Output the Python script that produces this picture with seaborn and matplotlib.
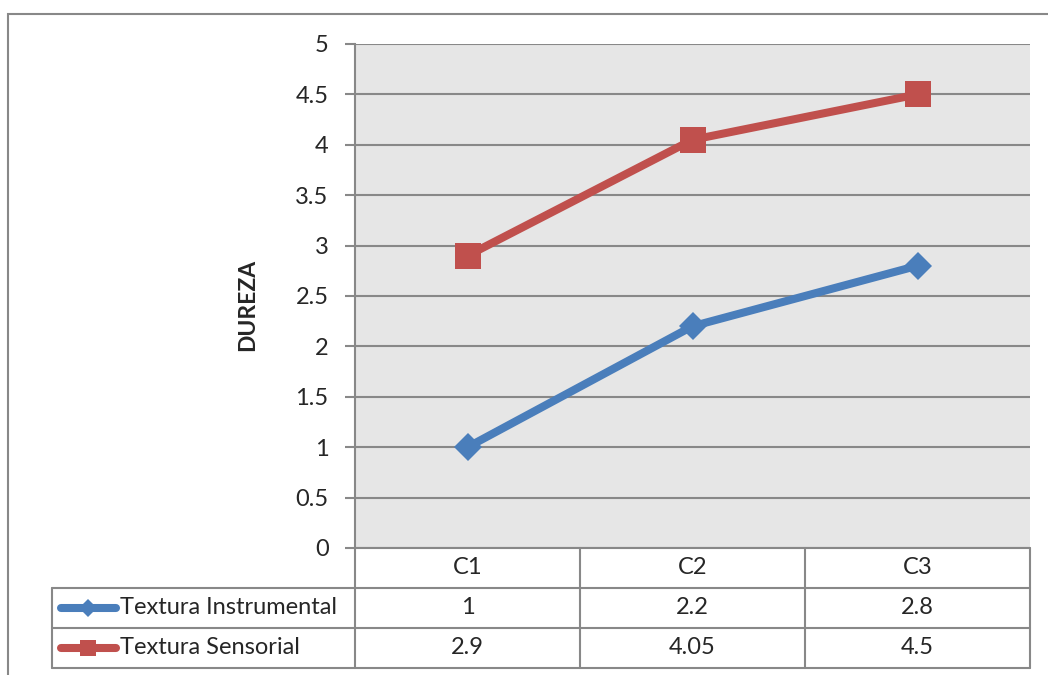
import matplotlib
matplotlib.use("Agg")
import matplotlib.pyplot as plt
from matplotlib.lines import Line2D
from matplotlib.patches import Rectangle
from matplotlib.transforms import blended_transform_factory
import pandas as pd
import seaborn as sns

categories = ["C1", "C2", "C3"]
instrumental = [1, 2.2, 2.8]
sensorial = [2.9, 4.05, 4.5]
series_names = ["Textura Instrumental", "Textura Sensorial"]
y_ticks = [0, 0.5, 1, 1.5, 2, 2.5, 3, 3.5, 4, 4.5, 5]

df = pd.DataFrame({"Categoria": categories * 2,
                   "Serie": [series_names[0]] * 3 + [series_names[1]] * 3,
                   "Dureza": instrumental + sensorial})

sns.set_theme(style="white")
plt.rcParams["font.family"] = ["Lato", "DejaVu Sans"]

W, H = 1048, 675
blue, red = "#4A7EBB", "#C0504D"
grid_c = "#888888"
fs = 17
fig = plt.figure(figsize=(W / 100, H / 100), dpi=100)

def fx(x):
    return x / W

def fy(y):
    return 1 - y / H

ax = fig.add_axes([fx(355), fy(548), fx(1030) - fx(355), fy(44) - fy(548)])
ax.set_facecolor("#E6E6E6")

sns.lineplot(data=df, x="Categoria", y="Dureza", hue="Serie", style="Serie",
             palette={series_names[0]: blue, series_names[1]: red},
             markers={series_names[0]: "D", series_names[1]: "s"},
             dashes=False, linewidth=5.8, markeredgewidth=0,
             legend=False, ax=ax, sort=False)
for ln in ax.lines:
    ln.set_solid_capstyle("round")
    ln.set_solid_joinstyle("round")
    ln.set_markersize(14 if ln.get_marker() == "D" else 19)

ax.set_xlim(-0.5, 2.5)
ax.set_ylim(0, 5)
ax.set_yticks(y_ticks)
ax.set_yticklabels([f"{v:g}" for v in y_ticks], fontsize=fs)
ax.yaxis.grid(True, color=grid_c, linewidth=1.5)
ax.set_axisbelow(True)
ax.set_xticks([])
ax.set_xlabel("")
ax.set_ylabel("")
for s in ["top", "right", "bottom"]:
    ax.spines[s].set_visible(False)
ax.spines["left"].set_color(grid_c)
ax.spines["left"].set_linewidth(1.5)
ax.tick_params(axis="y", left=True, length=7, width=1.5, color=grid_c, pad=12)

fig.text(fx(248), fy(305), "DUREZA", rotation=90, fontsize=16.5, fontweight="bold",
         ha="center", va="center")

# data table under the plot
def hline(x0, x1, y):
    fig.add_artist(Line2D([fx(x0), fx(x1)], [fy(y), fy(y)], color=grid_c, lw=1.5,
                          transform=fig.transFigure))

def vline(x, y0, y1):
    fig.add_artist(Line2D([fx(x), fx(x)], [fy(y0), fy(y1)], color=grid_c, lw=1.5,
                          transform=fig.transFigure))

hline(355, 1030, 548)
for y in [588, 628, 668]:
    hline(52, 1030, y)
for x in [355, 580, 805, 1030]:
    vline(x, 548, 668)
vline(52, 588, 668)

tr = blended_transform_factory(ax.transData, fig.transFigure)
for i, c in enumerate(categories):
    fig.text(i, fy(568), c, transform=tr, ha="center", va="center", fontsize=fs)
rows = [(instrumental, 608, blue, "D", 9), (sensorial, 648, red, "s", 12)]
for (vals, yc, col, mk, ms), name in zip(rows, series_names):
    for i, v in enumerate(vals):
        fig.text(i, fy(yc), f"{v:g}", transform=tr, ha="center", va="center", fontsize=fs)
    fig.add_artist(Line2D([fx(61), fx(116)], [fy(yc), fy(yc)], color=col, lw=5.8,
                          solid_capstyle="round", transform=fig.transFigure))
    fig.add_artist(Line2D([fx(88)], [fy(yc)], color=col, marker=mk, markersize=ms,
                          markeredgewidth=0, transform=fig.transFigure))
    fig.text(fx(120), fy(yc), name, ha="left", va="center", fontsize=fs)

# chart outer border
fig.add_artist(Rectangle((fx(8), fy(700)), fx(1100), fy(14) - fy(700), fill=False,
                         edgecolor=grid_c, lw=1.5, transform=fig.transFigure))

fig.savefig("out.png", dpi=100)
